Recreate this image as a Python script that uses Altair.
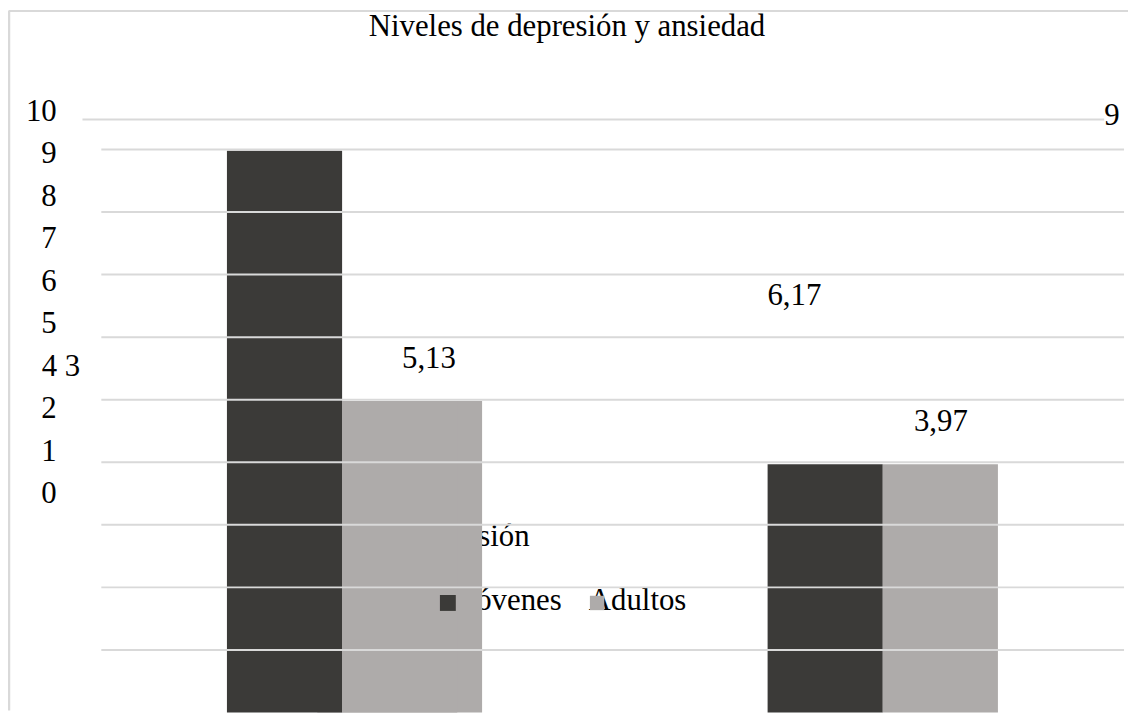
import altair as alt
import pandas as pd

# ---------------- data ----------------
title_text = "Niveles de depresión y ansiedad"
categories = ["Depresión", "Ansiedad"]
series = ["Jóvenes", "Adultos"]
bar_category = ["Depresión", "Depresión", "Ansiedad", "Ansiedad"]
bar_series = ["Jóvenes", "Adultos", "Jóvenes", "Adultos"]
bar_heights = [8.98, 4.98, 3.97, 3.97]          # heights as drawn
label_values = [9, 5.13, 6.17, 3.97]            # printed data labels
label_texts = ["9", "5,13", "6,17", "3,97"]
y_tick_labels = ["10", "9", "8", "7", "6", "5", "4 3", "2", "1", "0"]
grid_values = [9, 8, 7, 6, 5, 4, 3, 2, 1]
top_grid_value = [9.48]

# ---------------- style / layout ----------------
W, H = 1128, 705
DARK, GREY, GRID = "#3b3a38", "#aeabaa", "#d9d9d9"
FONT, FS = "Liberation Serif", 31

bars = pd.DataFrame({
    "i": list(range(len(bar_heights))),
    "cat": bar_category, "ser": bar_series,
    "h": bar_heights, "v": label_values, "t": label_texts,
})

x_sc = alt.Scale(domain=categories, range=[220.5, 997], paddingInner=0.574, paddingOuter=0)
xo_sc = alt.Scale(domain=series, paddingInner=0, paddingOuter=0)
y_sc = alt.Scale(domain=[0, 10], range=[707, 77])
col_sc = alt.Scale(domain=series, range=[DARK, GREY])

X = alt.X("cat:N", scale=x_sc, axis=None, sort=categories)
XO = alt.XOffset("ser:N", scale=xo_sc, sort=series)
C = alt.Color("ser:N", scale=col_sc, legend=None)
one = pd.DataFrame({"k": [0]})

def txt(**kw):
    base = dict(font=FONT, fontSize=FS, color="black", baseline="middle")
    base.update(kw)
    return base

# frame
frame_top = alt.Chart(one).mark_rule(color=GRID, strokeWidth=2).encode(
    x=alt.value(1), x2=alt.value(W), y=alt.value(0.5))
frame_left = alt.Chart(one).mark_rule(color=GRID, strokeWidth=2.5).encode(
    x=alt.value(1), y=alt.value(0), y2=alt.value(H))

# texts that end up partly hidden under the bars
cat_label = alt.Chart(pd.DataFrame({"cat": categories[:1]})).mark_text(
    **txt(align="right", dx=188.8)).encode(
    x=X, y=alt.value(530.7), text="cat:N")
leg_text_j = alt.Chart(pd.DataFrame({"ser": series[:1]})).mark_text(
    **txt(align="left")).encode(x=alt.value(459.5), y=alt.value(594.7), text="ser:N")
leg_text_a = alt.Chart(pd.DataFrame({"ser": series[1:]})).mark_text(
    **txt(align="left")).encode(x=alt.value(585), y=alt.value(594.7), text="ser:N")

# bars
wide_grey = alt.Chart(bars).transform_filter("datum.i == 1").mark_bar(width=166).encode(
    x=X, xOffset=XO, y=alt.Y("h:Q", scale=y_sc, axis=None), color=C)
bar_layer = alt.Chart(bars).mark_bar().encode(
    x=X, xOffset=XO, y=alt.Y("h:Q", scale=y_sc, axis=None), color=C)

# gridlines (drawn over the bars)
grid = alt.Chart(pd.DataFrame({"g": grid_values})).mark_rule(color=GRID, strokeWidth=2).encode(
    y=alt.Y("g:Q", scale=y_sc, axis=None), x=alt.value(94), x2=alt.value(1124))
grid_top = alt.Chart(pd.DataFrame({"g": top_grid_value})).mark_rule(color=GRID, strokeWidth=2).encode(
    y=alt.Y("g:Q", scale=y_sc, axis=None), x=alt.value(75), x2=alt.value(1104))

# legend squares
leg_sq_j = alt.Chart(pd.DataFrame({"ser": series[:1]})).mark_square(size=256, opacity=1).encode(
    x=alt.value(443), y=alt.value(596.7), color=C)
leg_sq_a = alt.Chart(pd.DataFrame({"ser": series[1:]})).mark_square(size=210, opacity=1).encode(
    x=alt.value(593.3), y=alt.value(596.7), color=C)

# data labels
label_layout = {1: (29.5, -33), 2: (-31, -30.6), 3: (0.5, -42)}
data_labels = []
for i, (dx, dy) in label_layout.items():
    data_labels.append(
        alt.Chart(bars).transform_filter(f"datum.i == {i}").mark_text(
            **txt(align="center", dx=dx, dy=dy)).encode(
            x=X, xOffset=XO, y=alt.Y("v:Q", scale=y_sc, axis=None), text="t:N"))
data_labels.append(
    alt.Chart(bars).transform_filter("datum.i == 0").mark_text(
        **txt(align="left", dy=-34)).encode(
        x=alt.value(1104), y=alt.Y("v:Q", scale=y_sc, axis=None), text="t:N"))

# y tick labels (misplaced in the original)
yl_sc = alt.Scale(type="point", domain=y_tick_labels, range=[102, 487], padding=0)
ylab = alt.Chart(pd.DataFrame({"t": y_tick_labels})).transform_filter("datum.t != '4 3'").mark_text(
    **txt(align="right")).encode(x=alt.value(49), y=alt.Y("t:N", scale=yl_sc, axis=None), text="t:N")
ylab43 = alt.Chart(pd.DataFrame({"t": y_tick_labels})).transform_filter("datum.t == '4 3'").mark_text(
    **txt(align="left")).encode(x=alt.value(34), y=alt.Y("t:N", scale=yl_sc, axis=None), text="t:N")

# title
title = alt.Chart(pd.DataFrame({"t": [title_text]})).mark_text(
    **txt(align="center")).encode(x=alt.value(563), y=alt.value(16.7), text="t:N")

chart = alt.layer(
    frame_top, frame_left, cat_label, leg_text_j, leg_text_a,
    wide_grey, bar_layer, grid, grid_top, leg_sq_j, leg_sq_a,
    *data_labels, ylab, ylab43, title,
).resolve_scale(y="independent").properties(
    width=W, height=H, padding=0, autosize="none", background="white"
).configure_view(stroke=None)

chart.save("out.html", embed_options={"renderer": "svg", "actions": False})
